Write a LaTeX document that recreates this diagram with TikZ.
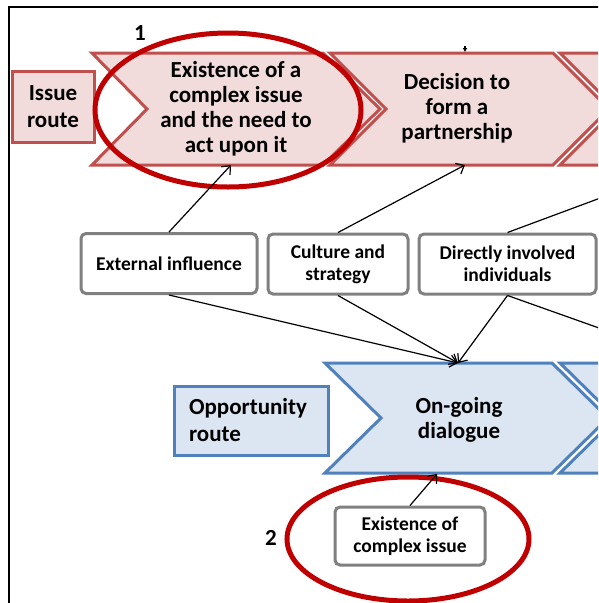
\documentclass[tikz,border=0pt]{standalone}
\usepackage{fontspec}
\setmainfont{Carlito}
\usetikzlibrary{arrows.meta}
\definecolor{redfill}{RGB}{242,220,219}
\definecolor{redline}{RGB}{192,80,77}
\definecolor{bluefill}{RGB}{220,230,242}
\definecolor{blueline}{RGB}{79,129,189}
\definecolor{ellred}{RGB}{192,0,0}
\definecolor{boxgray}{RGB}{128,128,128}
\begin{document}
\begin{tikzpicture}[x=1pt,y=-1pt,
  redchev/.style={draw=redline,fill=redfill,line width=3pt,line join=miter},
  bluechev/.style={draw=blueline,fill=bluefill,line width=3pt,line join=miter},
  redbox/.style={draw=redline,fill=redfill,line width=3pt,inner sep=0pt,align=center,font=\fontsize{23}{27}\selectfont\bfseries},
  bluebox/.style={draw=blueline,fill=bluefill,line width=3pt,inner sep=0pt,align=left,font=\fontsize{23}{27}\selectfont\bfseries},
  chevtext/.style={align=center,inner sep=0pt,font=\fontsize{23}{25}\selectfont\bfseries},
  graybox/.style={draw=boxgray,fill=white,line width=3pt,rounded corners=5pt,inner sep=0pt,align=center,font=\fontsize{19.5}{22}\selectfont\bfseries},
  numtext/.style={inner sep=0pt,font=\fontsize{23}{26}\selectfont\bfseries},
  bigring/.style={draw=ellred,line width=5pt},
  conn/.style={draw=black,line width=1.2pt,-{Straight Barb[length=7pt,width=12pt,line width=1.2pt]}},
  plain/.style={draw=black,line width=1.2pt}
]
\useasboundingbox (0,0) rectangle (598,603);
\clip (0,0) rectangle (598,603);
\fill[white] (0,0) rectangle (598,603);
% frame
\draw[line width=2pt] (9,605) -- (9,7) -- (600,7);
% red chevrons
\draw[redchev] (92,53) -- (323,53) -- (380,109) -- (323,165) -- (92,165) -- (147,109) -- cycle;
\draw[redchev] (330,53) -- (553,53) -- (609,109) -- (553,165) -- (330,165) -- (386,109) -- cycle;
\draw[redchev] (560,53) -- (790,53) -- (846,109) -- (790,165) -- (560,165) -- (616,109) -- cycle;
\node[redbox,minimum width=82,minimum height=71] (issue) at (53,106.5) {Issue\\route};
\node[chevtext] (exist) at (236,109) {Existence of a\\complex issue\\and the need to\\act upon it};
\node[chevtext] (decide) at (457,108) {Decision to\\form a\\partnership};
\coordinate (c1) at (231,165);
\coordinate (c2) at (465,165);
\coordinate (ctop) at (465,52);
\coordinate (ctopa) at (465,46);
% blue chevrons
\draw[bluechev] (325,363) -- (552,363) -- (608,418) -- (552,473) -- (325,473) -- (381,418) -- cycle;
\draw[bluechev] (560,363) -- (790,363) -- (846,418) -- (790,473) -- (560,473) -- (616,418) -- cycle;
\node[bluebox,minimum width=154,minimum height=69,text width=124] (opp) at (251,420.5) {Opportunity\\route};
\node[chevtext] (ongo) at (459,420) {On-going\\dialogue};
\coordinate (c3) at (458,363);
\coordinate (c4) at (437,474);
% rings
\draw[bigring] (228,110) ellipse [x radius=133pt, y radius=77pt];
\draw[bigring] (408,539) ellipse [x radius=121pt, y radius=62pt];
% boxes
\node[graybox,minimum width=176,minimum height=60] (ext) at (169,263.5) {External influence};
\node[graybox,minimum width=140,minimum height=60] (cult) at (338,264) {Culture and\\strategy};
\node[graybox,minimum width=177,minimum height=60] (dir) at (507.5,264) {Directly involved\\individuals};
\node[graybox,minimum width=150,minimum height=58] (excx) at (410,536) {Existence of\\complex issue};
\node[numtext] (n1) at (140,33) {1};
\node[numtext] (n2) at (271,538) {2};
\coordinate (off1) at (630,187);
\coordinate (off2) at (630,339);
% connectors
\draw[conn] (ext.north) -- (c1);
\draw[conn] (cult.north) -- (c2);
\draw[plain] (dir.north) -- (off1);
\draw[conn] (ext.south) -- (c3);
\draw[conn] (cult.south) -- (c3);
\draw[conn] (dir.south) -- (c3);
\draw[plain] (dir.south) -- (off2);
\draw[conn] (excx.north) -- (c4);
\draw[line width=1.2pt,-{Latex[length=4pt,width=5pt]}] (ctopa) -- (ctop);
\end{tikzpicture}
\end{document}
